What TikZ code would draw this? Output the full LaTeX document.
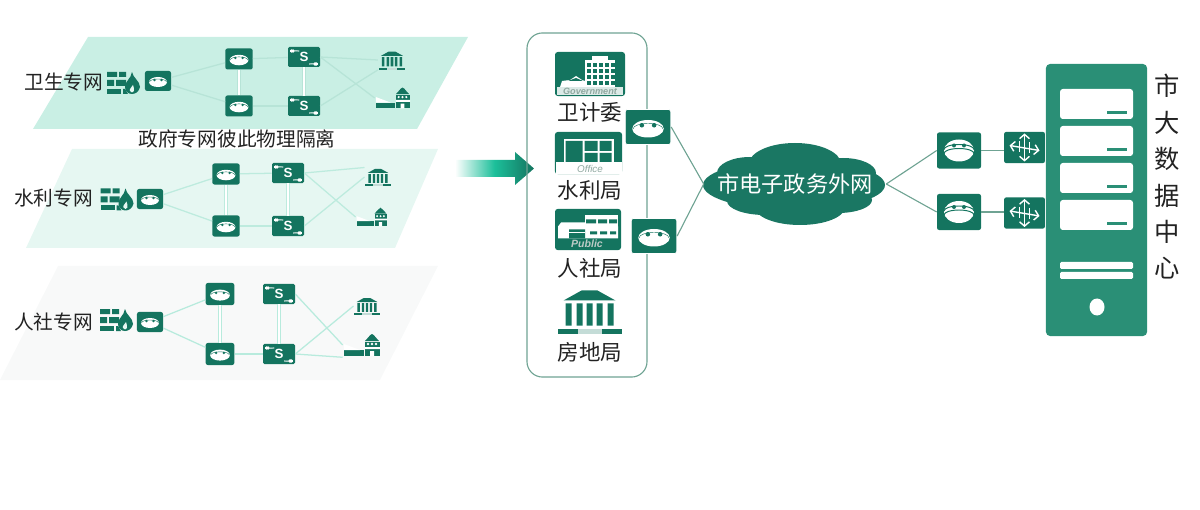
\documentclass[tikz,border=0pt]{standalone}
\usepackage{fontspec}
\setmainfont{Noto Sans CJK SC}
\newfontfamily\latinfont{Liberation Sans}
\usetikzlibrary{arrows.meta}
\definecolor{boxgreen}{HTML}{14745F}
\definecolor{servergreen}{HTML}{2A8F76}
\definecolor{cloudgreen}{HTML}{1A7763}
\definecolor{panela}{HTML}{C9EFE4}
\definecolor{panelb}{HTML}{E6F7F2}
\definecolor{panelc}{HTML}{F8F9F9}
\definecolor{linka}{HTML}{B7E4D7}
\definecolor{linkb}{HTML}{BDEBDE}
\definecolor{linkc}{HTML}{B8EBDD}
\definecolor{linkdark}{HTML}{6FA393}
\definecolor{textdark}{HTML}{222222}
\definecolor{wordgray}{HTML}{8FA8A0}
\definecolor{arrowteal}{HTML}{1CBF9A}
\begin{document}
\begin{tikzpicture}[
            % Un pixel de la referencia
            x=0.025cm, y=-0.025cm,
            panellabel/.style={inner sep=0, text=textdark, font=\fontsize{14}{16}\selectfont},
            midlabel/.style={inner sep=0, text=textdark, font=\fontsize{15.3}{18}\selectfont},
            link/.style={draw, line width=0.9pt},
            twinlink/.style={draw, line width=0.7pt, double=white, double distance=1.6pt},
            widelink/.style={draw=linkdark, line width=0.8pt},
            % Iconos dentro del nodo
            routerbox/.style={fill=boxgreen, rounded corners=1.5pt, inner sep=0, minimum width=#1*0.65cm, minimum height=#1*0.5cm,
                path picture={\begin{scope}[shift={(path picture bounding box.center)}, x=#1*0.025cm, y=-#1*0.025cm]
                    \fill[white] (0,1) ellipse (9 and 5);
                    \draw[boxgreen, line width=0.3pt] (-8.5,1) arc (180:360:8.5 and 3);
                    \fill[boxgreen] (-3.5,-1) circle (1.3) (3.5,-1) circle (1.3);
                \end{scope}}},
            stackbox/.style={fill=boxgreen, rounded corners=1.5pt, inner sep=0, minimum width=1.1cm, minimum height=0.9cm,
                path picture={\begin{scope}[shift={(path picture bounding box.center)}]
                    \fill[white] (0,0) ellipse (15 and 11);
                    \draw[boxgreen, line width=0.7pt] (-15,-1) arc (180:360:15 and 5) (-15,3) arc (180:360:15 and 5);
                    \fill[boxgreen] (-5,-5) circle (2) (5,-5) circle (2);
                \end{scope}}},
            switchbox/.style={fill=boxgreen, rounded corners=1pt, inner sep=0, minimum width=0.8cm, minimum height=0.5cm,
                label={[inner sep=0, text=white, font=\latinfont\bfseries\fontsize{9.5}{9.5}\selectfont]center:S},
                path picture={\begin{scope}[shift={(path picture bounding box.center)}]
                    \fill[white] (-5,-6.5) -- (-11,-6.5) -- (-11,-8.5) -- (-15,-6) -- (-11,-3.5) -- (-11,-5.5) -- (-5,-5.5) -- cycle;
                    \fill[white] (5,6.5) -- (11,6.5) -- (11,4.5) -- (15,7) -- (11,9.5) -- (11,7.5) -- (5,7.5) -- cycle;
                \end{scope}}},
            crossbox/.style={fill=boxgreen, rounded corners=1.5pt, inner sep=0, minimum width=1.02cm, minimum height=0.78cm,
                path picture={\begin{scope}[shift={(path picture bounding box.center)}]
                    \draw[white, line width=1pt, {Straight Barb[length=3pt,width=7pt]}-{Straight Barb[length=3pt,width=7pt]}] (0,-14) -- (0,14);
                    \draw[white, line width=1pt, {Straight Barb[length=3pt,width=7pt]}-{Straight Barb[length=3pt,width=7pt]}] (-15,-2) -- (15,3);
                    \draw[white, line width=0.8pt] (-5,-6) -- (-5,5) (5,-5) -- (5,6);
                \end{scope}}},
            wallicon/.style={inner sep=0, minimum width=0.85cm, minimum height=0.62cm,
                path picture={\begin{scope}[shift={(path picture bounding box.center)}]
                    \fill[boxgreen] (-16,-11) rectangle (-6,-6) (-4,-11) rectangle (3,-6);
                    \fill[boxgreen] (-16,-3) rectangle (-9,3) (-7,-3) rectangle (3,3);
                    \fill[boxgreen] (-16,6) rectangle (-2,11);
                    \fill[boxgreen] (0,6) -- (2,6) -- (5,11) -- (0,11) -- cycle;
                    \fill[boxgreen] (9,-11) .. controls (10,-5) and (17,-2) .. (17,4) .. controls (16,9) and (12,11) .. (9,11)
                        .. controls (5,11) and (2,8) .. (2,4) .. controls (2,-2) and (8,-4) .. (9,-11) -- cycle;
                    \fill[panelb] (10,2) .. controls (10,4) and (12,6) .. (11,8) .. controls (10,10) and (8,10) .. (7,8) .. controls (6,6) and (9,4) .. (10,2) -- cycle;
                \end{scope}}},
            bankicon/.style={inner sep=0, minimum width=#1*1.65cm, minimum height=#1*1.15cm,
                path picture={\begin{scope}[shift={(path picture bounding box.center)}, x=#1*0.025cm, y=-#1*0.025cm]
                    \fill[boxgreen] (-26,-10) -- (-8,-20) -- (8,-20) -- (26,-10) -- cycle;
                    \fill[boxgreen] (-24,-7) rectangle (-18,15) (-13,-7) rectangle (-7,15) (-3,-7) rectangle (3,15) (7,-7) rectangle (13,15) (18,-7) rectangle (24,15);
                    \fill[boxgreen] (-32,18) rectangle (32,23);
                    \fill[boxgreen!25] (-12,18) rectangle (12,23);
                \end{scope}}},
            houseicon/.style={inner sep=0, minimum width=#1*0.95cm, minimum height=#1*0.6cm,
                path picture={\begin{scope}[shift={(path picture bounding box.center)}, x=#1*0.025cm, y=-#1*0.025cm]
                    \fill[boxgreen] (-18,5) rectangle (2,11);
                    \fill[white] (-18,-1) -- (-2,5) -- (-18,5) -- cycle;
                    \fill[boxgreen] (3,-4) .. controls (6,-6) and (7,-10) .. (10,-11) .. controls (13,-10) and (14,-6) .. (17,-4) -- cycle;
                    \fill[boxgreen] (3,-3) rectangle (18,11);
                    \fill[white] (6,-1) circle (1.3) (10,-1) circle (1.3) (14,-1) circle (1.3) (3,2) rectangle (18,4) (8,6) rectangle (12,11);
                \end{scope}}},
            photobox/.style={fill=boxgreen, rounded corners=2pt, inner sep=0},
            wordtag/.style={inner sep=0, text=wordgray, font=\latinfont\bfseries\itshape\fontsize{6.5}{7}\selectfont}
        ]
            \useasboundingbox (0,0) rectangle (1200,510);

            % Tres planos
            \fill[panela] (88,37) -- (468,37) -- (417,129) -- (33,129) -- cycle;
            \fill[panelb] (72,149) -- (438,149) -- (395,248) -- (26,248) -- cycle;
            \fill[panelc] (58,266) -- (438,266) -- (380,380) -- (0,380) -- cycle;

            % Plano 1
            \node [panellabel] (healthname) at (64,82) {卫生专网};
            \node [wallicon] (healthwall) at (123,83) {};
            \node [routerbox=1] (healthin) at (158,81) {};
            \node [routerbox=1.05] (healthra) at (239,59) {};
            \node [routerbox=1.05] (healthrb) at (239,106) {};
            \node [switchbox] (healthsa) at (304,57) {};
            \node [switchbox] (healthsb) at (304,106) {};
            \node [bankicon=0.42] (healthbank) at (392,60) {};
            \node [houseicon=0.95] (healthhouse) at (393,98) {};
            \path [link, linka] (healthin) -- (healthra);
            \path [link, linka] (healthin) -- (healthrb);
            \path [link, linka] (healthra) -- (healthsa);
            \path [link, linka] (healthrb) -- (healthsb);
            \path [twinlink, linka] (healthra) -- (healthrb);
            \path [twinlink, linka] (healthsa) -- (healthsb);
            \path [link, linka] (healthsa.east) -- (healthbank.west);
            \path [link, linka] (healthsa.east) -- (healthhouse.west);
            \path [link, linka] (healthsb.east) -- (healthbank.south west);

            \node [panellabel] (isolation) at (237,139) {政府专网彼此物理隔离};

            % Plano 2
            \node [panellabel] (watername) at (53.5,198) {水利专网};
            \node [wallicon] (waterwall) at (116.5,199.5) {};
            \node [routerbox=1] (waterin) at (150,199) {};
            \node [routerbox=1.05] (waterra) at (226,174) {};
            \node [routerbox=1.05] (waterrb) at (226,226) {};
            \node [switchbox] (watersa) at (288,173) {};
            \node [switchbox] (watersb) at (288,226) {};
            \node [bankicon=0.4] (waterbank) at (378,177) {};
            \node [houseicon=0.85] (waterhouse) at (372,217) {};
            \path [link, linkb] (waterin) -- (waterra);
            \path [link, linkb] (waterin) -- (waterrb);
            \path [link, linkb] (waterra) -- (watersa);
            \path [link, linkb] (waterrb) -- (watersb);
            \path [twinlink, linkb] (waterra) -- (waterrb);
            \path [twinlink, linkb] (watersa) -- (watersb);
            \path [link, linkb] (watersa.east) -- (waterbank.north west);
            \path [link, linkb] (watersa.east) -- (waterhouse.west);
            \path [link, linkb] (watersb.east) -- (waterbank.west);

            % Plano 3
            \node [panellabel] (socialname) at (53.5,322) {人社专网};
            \node [wallicon] (socialwall) at (116,320) {};
            \node [routerbox=1] (socialin) at (150,322) {};
            \node [routerbox=1.1] (socialra) at (220,294) {};
            \node [routerbox=1.1] (socialrb) at (220,354) {};
            \node [switchbox] (socialsa) at (279,294) {};
            \node [switchbox] (socialsb) at (279,354) {};
            \node [bankicon=0.4] (socialbank) at (367,306) {};
            \node [houseicon=1] (socialhouse) at (362,345) {};
            \path [link, linkc] (socialin) -- (socialra);
            \path [link, linkc] (socialin) -- (socialrb);
            \path [link, linkc] (socialrb) -- (socialsb);
            \path [twinlink, linkc] (socialra) -- (socialrb);
            \path [twinlink, linkc] (socialsa) -- (socialsb);
            \path [link, linkc] (socialsa.east) -- (socialhouse.west);
            \path [link, linkc] (socialsb.east) -- (socialbank.west);
            \path [link, linkc] (socialsb.east) -- (socialhouse.south west);

            % Flecha central
            \shade[left color=white, right color=boxgreen, middle color=arrowteal] (455,160) -- (515,160) -- (515,152) -- (534,168.5) -- (515,185) -- (515,177) -- (455,177) -- cycle;

            % Columna de organismos
            \node [draw=linkdark, rounded corners=11pt, line width=0.8pt, inner sep=0, minimum width=3cm, minimum height=8.6cm] (column) at (587,205) {};

            \node [photobox, minimum width=1.75cm, minimum height=1.1cm] (govbox) at (590,74) {};
            \begin{scope}[shift={(590,74)}]
                \fill[white] (-5,-14) rectangle (25,13);
                \fill[white] (2,-18) rectangle (18,-14);
                \foreach \col in {-3,3,9,15,21} \foreach \row in {-11,-5,1,7} \fill[boxgreen] (\col,\row) rectangle +(3.6,3.6);
                \fill[white] (-30,13) -- (-28,7) -- (-20,6) -- (-14,2) -- (-8,6) -- (-5,7) -- (-5,13) -- cycle;
                \fill[boxgreen] (-22,7) -- (-14,4) -- (-7,7) -- cycle;
                \fill[white!85!boxgreen] (-33,13) rectangle (33,21);
            \end{scope}
            \node [wordtag] (govword) at (590,91) {Government};
            \node [midlabel] (govname) at (590,112) {卫计委};

            \node [photobox, minimum width=1.68cm, minimum height=1.05cm] (officebox) at (588.5,153) {};
            \begin{scope}[shift={(588.5,153)}]
                \fill[white] (-25,-14) rectangle (25,9);
                \fill[boxgreen] (-23,-12) rectangle (-6,9) (-4,-12) rectangle (9,-2) (11,-12) rectangle (23,-2) (-4,0) rectangle (9,9) (11,0) rectangle (23,9);
                \fill[white] (-33,9) rectangle (33,21);
            \end{scope}
            \node [wordtag, font=\latinfont\itshape\fontsize{7}{7}\selectfont] (officeword) at (590,169) {Office};
            \node [midlabel] (officename) at (590,190) {水利局};

            \node [photobox, minimum width=1.65cm, minimum height=1.03cm] (publicbox) at (588,229.5) {};
            \begin{scope}[shift={(588,229.5)}]
                \fill[white] (-3,-14) rectangle (30,-2);
                \fill[white] (-30,-3) -- (-27,-7) -- (-3,-7) -- (-3,-3) -- (30,-3) -- (30,9) -- (-30,9) -- cycle;
                \fill[boxgreen] (-2,-10) rectangle (8,-6) (10,-10) rectangle (19,-6) (21,-10) rectangle (29,-6);
                \fill[boxgreen] (-19,0) rectangle (-3,9) (2,2) rectangle (9,5) (12,2) rectangle (19,5) (22,2) rectangle (28,5);
                \fill[white] (-19,3) rectangle (-3,4);
            \end{scope}
            \node [wordtag, text=wordgray!60, font=\latinfont\bfseries\itshape\fontsize{7.5}{7}\selectfont] (publicword) at (587,243.5) {Public};
            \node [midlabel] (publicname) at (590,268) {人社局};

            \node [bankicon=1] (landbank) at (589.5,310.5) {};
            \node [midlabel] (landname) at (590,352) {房地局};

            \node [routerbox=1.75, draw=white, line width=0.6pt] (gatea) at (648,127) {};
            \node [routerbox=1.75, draw=white, line width=0.6pt] (gateb) at (654,236) {};

            % Nube y enlaces
            \fill[cloudgreen] (794,185) ellipse (91 and 25) (795,164) ellipse (46 and 21) (750,173) ellipse (33 and 16) (843,173) ellipse (33 and 15)
                (765,201) ellipse (38 and 14) (800,207) ellipse (45 and 18) (838,200) ellipse (34 and 13);
            \node [inner sep=0, text=white, minimum width=4.55cm, minimum height=2.05cm, font=\fontsize{15.8}{18}\selectfont] (egov) at (795,184) {市电子政务外网};
            \path [widelink] (gatea.east) -- (egov.west);
            \path [widelink] (gateb.east) -- (egov.west);

            \node [stackbox] (edgea) at (959,150.5) {};
            \node [stackbox] (edgeb) at (959,212) {};
            \node [crossbox] (hopa) at (1024.5,147.5) {};
            \node [crossbox] (hopb) at (1024.5,213) {};
            \path [widelink] (egov.east) -- (edgea.west);
            \path [widelink] (egov.east) -- (edgeb.west);
            \path [widelink] (edgea.east) -- (edgea.east -| hopa.west);
            \path [widelink] (edgeb.east) -- (edgeb.east -| hopb.west);

            % Servidor
            \node [fill=servergreen, rounded corners=3pt, inner sep=0, minimum width=2.53cm, minimum height=6.8cm] (server) at (1096.5,200) {};
            \foreach \top in {89,126,163,200} {
                \fill[white, rounded corners=2pt] (1060,\top) rectangle (1133,\top+30);
                \fill[servergreen] (1107,\top+22.5) rectangle (1127,\top+25);
            }
            \fill[white, rounded corners=1pt] (1060,262) rectangle (1133,269);
            \fill[white, rounded corners=1pt] (1060,272) rectangle (1133,279);
            \fill[white] (1097,307) ellipse (7.5 and 8.5);
            \node [inner sep=0, text=textdark, align=center, font=\fontsize{18}{25.9}\selectfont] (dataname) at (1167,177) {市\\大\\数\\据\\中\\心};
        \end{tikzpicture}
\end{document}
